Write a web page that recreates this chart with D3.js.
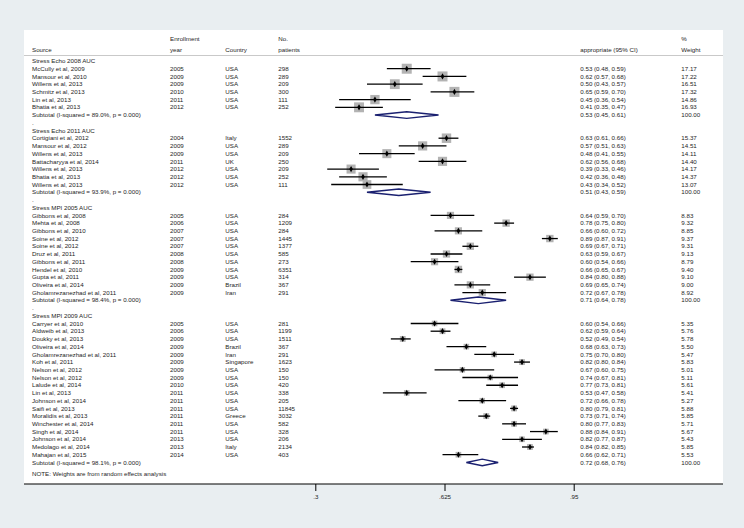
<!DOCTYPE html>
<html>
<head>
<meta charset="utf-8">
<script src="https://cdn.jsdelivr.net/npm/d3@7"></script>
<style>
  html, body { margin: 0; padding: 0; background: #e9eef1; }
  svg { display: block; }
  text { font-family: "Liberation Sans", Arial, Helvetica, sans-serif; fill: #1e1e1e; }
</style>
</head>
<body>
<svg id="chart" width="744" height="528"></svg>
<script>
// ---------- DATA ----------
const groupNames = ["Stress Echo 2008 AUC", "Stress Echo 2011 AUC", "Stress MPI 2005 AUC", "Stress MPI 2009 AUC"];
const groupI2 = ["89.0%", "93.9%", "98.4%", "98.1%"];
const groupP = ["0.000", "0.000", "0.000", "0.000"];
const subES = [0.53, 0.51, 0.71, 0.72];
const subLo = [0.45, 0.43, 0.64, 0.68];
const subHi = [0.61, 0.59, 0.78, 0.76];

const studyGroup = [
  0,0,0,0,0,0,
  1,1,1,1,1,1,1,
  2,2,2,2,2,2,2,2,2,2,2,
  3,3,3,3,3,3,3,3,3,3,3,3,3,3,3,3,3,3
];
const studySource = [
  "McCully et al, 2009","Mansour et al, 2010","Willens et al, 2013","Schmitz et al, 2013","Lin et al, 2013","Bhatia et al, 2013",
  "Cortigiani et al, 2012","Mansour et al, 2012","Willens et al, 2013","Battacharyya et al, 2014","Willens et al, 2013","Bhatia et al, 2013","Willens et al, 2013",
  "Gibbons et al, 2008","Mehta et al, 2008","Gibbons et al, 2010","Soine et al, 2012","Soine et al, 2012","Druz et al, 2011","Gibbons et al, 2011","Hendel et al, 2010","Gupta et al, 2011","Oliveira et al, 2014","Gholamrezanezhad et al, 2011",
  "Carryer et al, 2010","Aldweib et al, 2013","Doukky et al, 2013","Oliveira et al, 2014","Gholamrezanezhad et al, 2011","Koh et al, 2011","Nelson et al, 2012","Nelson et al, 2012","Lalude et al, 2014","Lin et al, 2013","Johnson et al, 2014","Saifi et al, 2013","Moralidis et al, 2013","Winchester et al, 2014","Singh et al, 2014","Johnson et al, 2014","Medolago et al, 2014","Mahajan et al, 2015"
];
const studyYear = [
  "2005","2009","2009","2010","2011","2012",
  "2004","2009","2009","2011","2012","2012","2012",
  "2005","2006","2007","2007","2007","2008","2008","2009","2009","2009","2009",
  "2005","2006","2009","2009","2009","2009","2009","2009","2010","2011","2011","2011","2011","2011","2011","2013","2013","2014"
];
const studyCountry = [
  "USA","USA","USA","USA","USA","USA",
  "Italy","USA","USA","UK","USA","USA","USA",
  "USA","USA","USA","USA","USA","USA","USA","USA","USA","Brazil","Iran",
  "USA","USA","USA","Brazil","Iran","Singapore","USA","USA","USA","USA","USA","USA","Greece","USA","USA","USA","Italy","USA"
];
const studyN = [
  "298","289","209","300","111","252",
  "1552","289","209","250","209","252","111",
  "284","1209","284","1445","1377","585","273","6351","314","367","291",
  "281","1199","1511","367","291","1623","150","150","420","338","205","11845","3032","582","328","206","2134","403"
];
const studyES = [
  0.53,0.62,0.50,0.65,0.45,0.41,
  0.63,0.57,0.48,0.62,0.39,0.42,0.43,
  0.64,0.78,0.66,0.89,0.69,0.63,0.60,0.66,0.84,0.69,0.72,
  0.60,0.62,0.52,0.68,0.75,0.82,0.67,0.74,0.77,0.53,0.72,0.80,0.73,0.80,0.88,0.82,0.84,0.66
];
const studyLo = [
  0.48,0.57,0.43,0.59,0.36,0.35,
  0.61,0.51,0.41,0.56,0.33,0.36,0.34,
  0.59,0.75,0.60,0.87,0.67,0.59,0.54,0.65,0.80,0.65,0.67,
  0.54,0.59,0.49,0.63,0.70,0.80,0.60,0.67,0.73,0.47,0.66,0.79,0.71,0.77,0.84,0.77,0.82,0.62
];
const studyHi = [
  0.59,0.68,0.57,0.70,0.54,0.47,
  0.66,0.63,0.55,0.68,0.46,0.48,0.52,
  0.70,0.80,0.72,0.91,0.71,0.67,0.66,0.67,0.88,0.74,0.78,
  0.66,0.64,0.54,0.73,0.80,0.84,0.75,0.81,0.81,0.58,0.78,0.81,0.74,0.83,0.91,0.87,0.85,0.71
];
const studyWeight = [
  17.17,17.22,16.51,17.32,14.86,16.93,
  15.37,14.51,14.11,14.40,14.17,14.37,13.07,
  8.83,9.32,8.85,9.37,9.31,9.13,8.79,9.40,9.10,9.00,8.92,
  5.35,5.76,5.78,5.50,5.47,5.83,5.01,5.11,5.61,5.41,5.27,5.88,5.85,5.71,5.67,5.43,5.85,5.53
];

const tickValues = [0.3, 0.625, 0.95];
const tickLabels = [".3", ".625", ".95"];

const headerTop = ["", "Enrollment", "", "No.", "", "%"];
const headerBottom = ["Source", "year", "Country", "patients", "appropriate (95% CI)", "Weight"];
const noteText = "NOTE: Weights are from random effects analysis";

// ---------- LAYOUT ----------
const W = 744, H = 528;
const panel = { x0: 24, x1: 723, y0: 30, y1: 484 };
const colX = [32, 170, 225.3, 278.3, 580.3, 681.3];
const row0 = 61, rowH = 7.72;
const FS = 6.2;

const f2 = d3.format(".2f");

// build row list
const rows = [];
groupNames.forEach((g, gi) => {
  rows.push({ type: "group", label: g });
  studySource.forEach((s, i) => {
    if (studyGroup[i] !== gi) return;
    rows.push({ type: "study", label: s, year: studyYear[i], country: studyCountry[i], n: studyN[i],
      es: studyES[i], lo: studyLo[i], hi: studyHi[i], w: studyWeight[i] });
  });
  rows.push({ type: "sub", label: `Subtotal  (I-squared = ${groupI2[gi]}, p = ${groupP[gi]})`,
    es: subES[gi], lo: subLo[gi], hi: subHi[gi], w: 100 });
  if (gi < groupNames.length - 1) rows.push({ type: "blank", label: "." });
});
rows.forEach((r, i) => r.y = row0 + i * rowH);

const svg = d3.select("#chart");

svg.append("rect").attr("x", 0).attr("y", 0).attr("width", W).attr("height", H).attr("fill", "#e9eef1");
svg.append("rect").attr("x", panel.x0).attr("y", panel.y0)
  .attr("width", panel.x1 - panel.x0).attr("height", panel.y1 - panel.y0).attr("fill", "#ffffff");

const x = d3.scaleLinear().domain([0.3, 0.95]).range([315.3, 573.7]);

// header
const hdr = svg.append("g").attr("font-size", FS);
headerTop.forEach((t, i) => {
  if (t) hdr.append("text").attr("x", colX[i]).attr("y", 39.3).attr("dy", "0.35em").text(t);
});
headerBottom.forEach((t, i) => {
  hdr.append("text").attr("x", colX[i]).attr("y", 50).attr("dy", "0.35em").text(t);
});
svg.append("line").attr("x1", panel.x0).attr("x2", panel.x1).attr("y1", 55.5).attr("y2", 55.5)
  .attr("stroke", "#c9c9c9").attr("stroke-width", 1);

// text columns
const tg = svg.append("g").attr("font-size", FS);
rows.forEach(r => {
  tg.append("text").attr("x", colX[0]).attr("y", r.y).attr("dy", "0.35em").text(r.label);
  if (r.type === "study") {
    tg.append("text").attr("x", colX[1]).attr("y", r.y).attr("dy", "0.35em").text(r.year);
    tg.append("text").attr("x", colX[2]).attr("y", r.y).attr("dy", "0.35em").text(r.country);
    tg.append("text").attr("x", colX[3]).attr("y", r.y).attr("dy", "0.35em").text(r.n);
  }
  if (r.type === "study" || r.type === "sub") {
    tg.append("text").attr("x", colX[4]).attr("y", r.y).attr("dy", "0.35em")
      .text(`${f2(r.es)} (${f2(r.lo)}, ${f2(r.hi)})`);
    tg.append("text").attr("x", colX[5]).attr("y", r.y).attr("dy", "0.35em").text(f2(r.w));
  }
});
const lastY = rows[rows.length - 1].y;
tg.append("text").attr("x", colX[0]).attr("y", lastY + 11).attr("dy", "0.35em").text(noteText);

// marks
const studies = rows.filter(r => r.type === "study");
const boxK = 2.41;
const mg = svg.append("g");
mg.selectAll("rect.box").data(studies).join("rect").attr("class", "box")
  .attr("x", d => x(d.es) - boxK * Math.sqrt(d.w) / 2)
  .attr("y", d => d.y - boxK * Math.sqrt(d.w) / 2)
  .attr("width", d => boxK * Math.sqrt(d.w))
  .attr("height", d => boxK * Math.sqrt(d.w))
  .attr("fill", "#b3b3b3");
mg.selectAll("line.ci").data(studies).join("line").attr("class", "ci")
  .attr("x1", d => x(d.lo)).attr("x2", d => x(d.hi))
  .attr("y1", d => d.y).attr("y2", d => d.y)
  .attr("stroke", "#000").attr("stroke-width", 1.3);
const diamondSym = d3.symbol().type(d3.symbolDiamond).size(11);
mg.selectAll("path.pt").data(studies).join("path").attr("class", "pt")
  .attr("transform", d => `translate(${x(d.es)},${d.y})`)
  .attr("d", diamondSym).attr("fill", "#000");

const subs = rows.filter(r => r.type === "sub");
const dh = 3.3;
mg.selectAll("path.sub").data(subs).join("path").attr("class", "sub")
  .attr("d", d => `M${x(d.lo)},${d.y}L${x(d.es)},${d.y - dh}L${x(d.hi)},${d.y}L${x(d.es)},${d.y + dh}Z`)
  .attr("fill", "none").attr("stroke", "#1a2070").attr("stroke-width", 1.4);

// axis
const axis = d3.axisBottom(x).tickValues(tickValues)
  .tickFormat((d, i) => tickLabels[i]).tickSize(7).tickSizeOuter(0).tickPadding(4);
const ag = svg.append("g").attr("transform", `translate(0,${panel.y1})`).call(axis);
ag.select(".domain").remove();
ag.selectAll(".tick line").attr("stroke", "#000").attr("stroke-width", 1);
ag.selectAll(".tick text").attr("font-size", FS).attr("font-family", null).attr("fill", "#1e1e1e");
svg.append("line").attr("x1", panel.x0).attr("x2", panel.x1).attr("y1", panel.y1).attr("y2", panel.y1)
  .attr("stroke", "#000").attr("stroke-width", 1.2);
</script>
</body>
</html>
